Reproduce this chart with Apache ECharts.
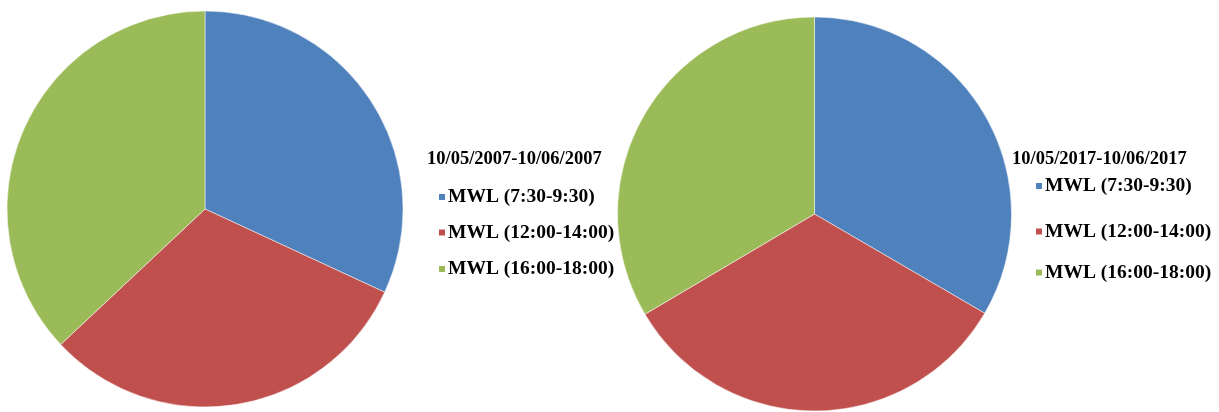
<!DOCTYPE html>
<html>
<head>
<meta charset="utf-8">
<script src="https://cdn.jsdelivr.net/npm/echarts@6/dist/echarts.min.js"></script>
<style>html,body{margin:0;padding:0;background:#fff;}#c{width:1219px;height:412px;}</style>
</head>
<body>
<div id="c"></div>
<script>
const categories = ['MWL (7:30-9:30)', 'MWL (12:00-14:00)', 'MWL (16:00-18:00)'];
const values2007 = [31.9, 31.1, 37.0];
const values2017 = [33.4, 33.1, 33.5];
const periodTitles = ['10/05/2007-10/06/2007', '10/05/2017-10/06/2017'];
const colors = ['#4F81BD', '#C0504D', '#9BBB59'];

const titleFont = { fontFamily: 'Liberation Serif', fontWeight: 'bold', fontSize: 18.5, color: '#000' };
const itemFont = { fontFamily: 'Liberation Serif', fontWeight: 'bold', fontSize: 19.5, color: '#000' };

const chart = echarts.init(document.getElementById('c'), null, { renderer: 'canvas' });

function legendItem(name, left, cy) {
  return {
    data: [name], left: left, top: cy - 10, orient: 'vertical',
    icon: 'rect', itemWidth: 8, itemHeight: 8, padding: 0,
    selectedMode: false,
    textStyle: Object.assign({}, itemFont, { padding: [0, 0, 0, -3], lineHeight: 20 })
  };
}

const leftY = [197, 232.5, 269];
const rightY = [186, 231.5, 272.5];

chart.setOption({
  color: colors,
  animation: false,
  title: [
    { text: periodTitles[0], left: 427, top: 150, padding: 0, textStyle: titleFont },
    { text: periodTitles[1], left: 1012, top: 150, padding: 0, textStyle: titleFont }
  ],
  legend: [
    legendItem(categories[0], 437, leftY[0]),
    legendItem(categories[1], 437, leftY[1]),
    legendItem(categories[2], 437, leftY[2]),
    legendItem(categories[0], 1034, rightY[0]),
    legendItem(categories[1], 1034, rightY[1]),
    legendItem(categories[2], 1034, rightY[2])
  ],
  series: [
    {
      type: 'pie', center: [205, 209], radius: 198, startAngle: 90, clockwise: true,
      label: { show: false }, labelLine: { show: false },
      itemStyle: { borderColor: '#fff', borderWidth: 0.5 },
      emphasis: { disabled: true },
      data: categories.map((n, i) => ({ name: n, value: values2007[i] }))
    },
    {
      type: 'pie', center: [814.5, 214], radius: 197, startAngle: 90, clockwise: true,
      label: { show: false }, labelLine: { show: false },
      itemStyle: { borderColor: '#fff', borderWidth: 0.5 },
      emphasis: { disabled: true },
      data: categories.map((n, i) => ({ name: n, value: values2017[i] }))
    }
  ]
});
</script>
</body>
</html>
